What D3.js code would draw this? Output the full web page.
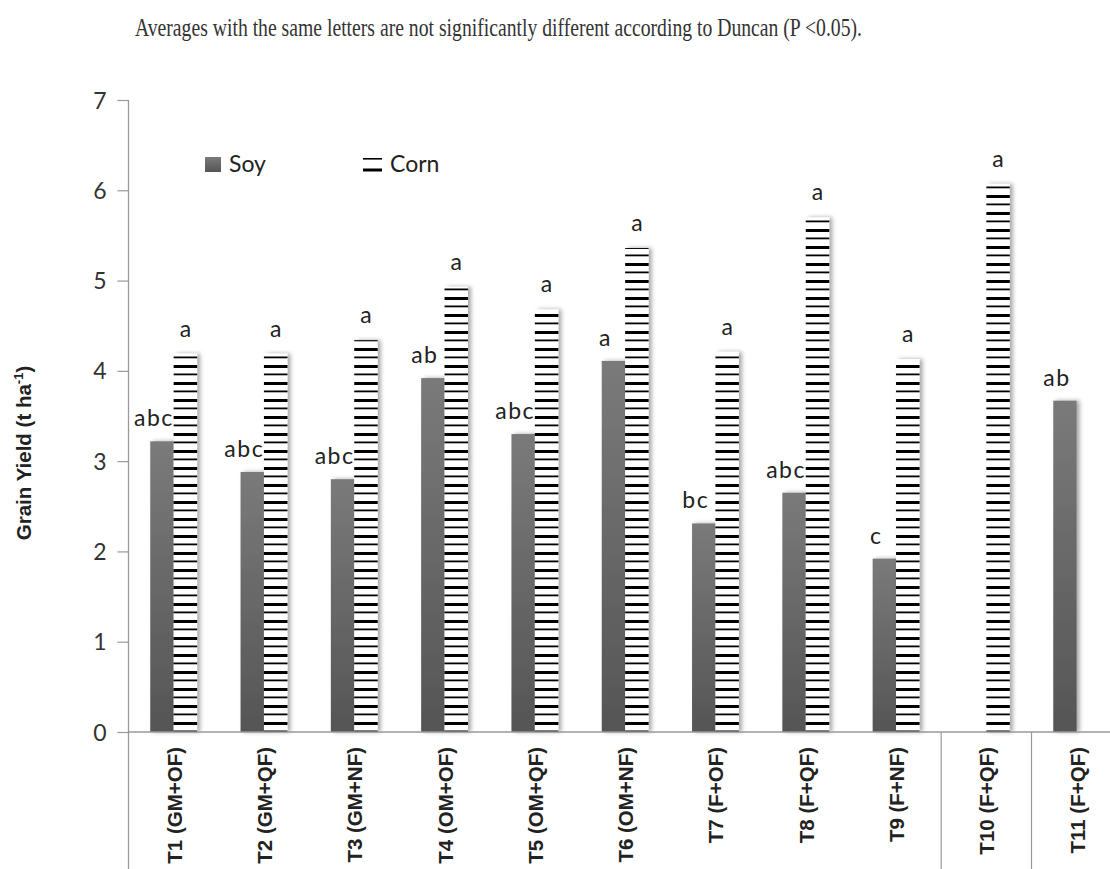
<!DOCTYPE html>
<html>
<head>
<meta charset="utf-8">
<script src="https://cdn.jsdelivr.net/npm/d3@7"></script>
<style>
  html, body { margin: 0; padding: 0; background: #fff; }
  svg { display: block; }
  .tick-lab { font-family: Lato, "Open Sans", sans-serif; font-size: 23px; fill: #333; }
  .cat-lab { font-family: "Liberation Sans", Arial, sans-serif; font-size: 20.5px; font-weight: bold; fill: #222; }
  .sig { font-family: Lato, "Open Sans", sans-serif; font-size: 23px; fill: #222; }
  .leg { font-family: Lato, "Open Sans", sans-serif; font-size: 23px; fill: #222; }
</style>
</head>
<body>
<div id="chart"></div>
<script>
// --- data ---
const categories = ['T1 (GM+OF)', 'T2 (GM+QF)', 'T3 (GM+NF)', 'T4 (OM+OF)', 'T5 (OM+QF)',
  'T6 (OM+NF)', 'T7 (F+OF)', 'T8 (F+QF)', 'T9 (F+NF)', 'T10 (F+QF)', 'T11 (F+QF)'];
const soy  = [3.22, 2.88, 2.80, 3.92, 3.30, 4.11, 2.31, 2.65, 1.92, 0, 3.67];
const corn = [4.19, 4.19, 4.34, 4.93, 4.68, 5.36, 4.21, 5.70, 4.13, 6.07, 0];
const soyLetters  = ['abc', 'abc', 'abc', 'ab', 'abc', 'a', 'bc', 'abc', 'c', '', 'ab'];
const cornLetters = ['a', 'a', 'a', 'a', 'a', 'a', 'a', 'a', 'a', 'a', ''];
const yTicks = [0, 1, 2, 3, 4, 5, 6, 7];
// categories that start a new group on the axis (separator line drawn at their left edge)
const groupStarts = ['T10 (F+QF)', 'T11 (F+QF)'];
const note = 'Averages with the same letters are not significantly different according to Duncan (P <0.05).';

const W = 1110, H = 869;
const x0 = 128.5, step = 90.3;

const svg = d3.select('#chart').append('svg')
  .attr('width', W).attr('height', H);

const defs = svg.append('defs');

// soy: grey gradient, lighter at the top of each bar
const grad = defs.append('linearGradient')
  .attr('id', 'soyGrad').attr('x1', 0).attr('y1', 0).attr('x2', 0).attr('y2', 1);
grad.append('stop').attr('offset', '0%').attr('stop-color', '#7a7a7a');
grad.append('stop').attr('offset', '100%').attr('stop-color', '#555555');

// corn: white with thick / thin black horizontal stripes
const pat = defs.append('pattern')
  .attr('id', 'cornPat').attr('patternUnits', 'userSpaceOnUse')
  .attr('x', 0).attr('y', 8).attr('width', 10).attr('height', 17);
pat.append('rect').attr('width', 10).attr('height', 17).attr('fill', '#fff');
pat.append('rect').attr('y', 0).attr('width', 10).attr('height', 3).attr('fill', '#000');
pat.append('rect').attr('y', 8.5).attr('width', 10).attr('height', 1.8).attr('fill', '#000');

// soft shadow on the right side of the bars
const sh = defs.append('filter').attr('id', 'shadow')
  .attr('x', '-20%').attr('y', '-5%').attr('width', '160%').attr('height', '110%');
sh.append('feDropShadow').attr('dx', 3).attr('dy', 0).attr('stdDeviation', 2)
  .attr('flood-color', '#000').attr('flood-opacity', 0.35);

const x = d3.scaleBand().domain(categories)
  .range([x0, x0 + step * categories.length]).paddingInner(0).paddingOuter(0);
const sub = d3.scaleBand().domain(['soy', 'corn'])
  .range([0, x.bandwidth()]).paddingInner(0).paddingOuter(0.93);
const y = d3.scaleLinear().domain([0, 7]).range([732, 100]);

// note on top
svg.append('text')
  .attr('x', 135).attr('y', 36)
  .attr('textLength', 727).attr('lengthAdjust', 'spacingAndGlyphs')
  .style('font-family', '"Liberation Serif", "DejaVu Serif", serif')
  .style('font-size', '26px').style('fill', '#333')
  .text(note);

// y axis
const yAxis = svg.append('g').attr('transform', `translate(${x0},0)`)
  .call(d3.axisLeft(y).tickValues(yTicks).tickSize(11).tickPadding(11).tickFormat(d3.format('d')));
yAxis.attr('font-size', null).attr('font-family', null);
yAxis.select('.domain').remove();
yAxis.selectAll('.tick line').attr('stroke', '#999').attr('stroke-width', 1.2);
yAxis.selectAll('.tick text').attr('class', 'tick-lab').attr('fill', null).attr('dy', '0.35em');
svg.append('line')
  .attr('x1', x0).attr('x2', x0).attr('y1', y(7)).attr('y2', H)
  .attr('stroke', '#999').attr('stroke-width', 1.3);

svg.append('text')
  .attr('transform', `translate(31,${453}) rotate(-90)`)
  .attr('text-anchor', 'middle')
  .style('font-family', '"Liberation Sans", Arial, sans-serif')
  .style('font-size', '20.5px').style('font-weight', 'bold').style('fill', '#222')
  .text('Grain Yield (t ha')
  .call(t => {
    t.append('tspan').attr('dy', -8).style('font-size', '13px').text('-1');
    t.append('tspan').attr('dy', 8).text(')');
  });

// bars
const groups = svg.append('g').selectAll('g')
  .data(categories).join('g')
  .attr('transform', d => `translate(${x(d)},0)`);

groups.filter((d, i) => soy[i] > 0).append('rect')
  .attr('x', sub('soy')).attr('width', sub.bandwidth())
  .attr('y', d => y(soy[categories.indexOf(d)]))
  .attr('height', d => y(0) - y(soy[categories.indexOf(d)]))
  .attr('fill', 'url(#soyGrad)').attr('filter', 'url(#shadow)');

groups.filter((d, i) => corn[i] > 0).append('rect')
  .attr('x', sub('corn')).attr('width', sub.bandwidth())
  .attr('y', d => y(corn[categories.indexOf(d)]))
  .attr('height', d => y(0) - y(corn[categories.indexOf(d)]))
  .attr('fill', 'url(#cornPat)').attr('filter', 'url(#shadow)');

// x axis line + group separators
svg.append('line')
  .attr('x1', x0).attr('x2', W).attr('y1', y(0)).attr('y2', y(0))
  .attr('stroke', '#999').attr('stroke-width', 1.5);
svg.append('g').selectAll('line').data(groupStarts).join('line')
  .attr('x1', d => x(d)).attr('x2', d => x(d))
  .attr('y1', y(0)).attr('y2', H)
  .attr('stroke', '#999').attr('stroke-width', 1.2);

// category labels, rotated
groups.append('text')
  .attr('class', 'cat-lab')
  .attr('transform', `translate(${x.bandwidth() / 2 + 8},747) rotate(-90)`)
  .attr('text-anchor', 'end')
  .text(d => d);

// significance letters
groups.append('text')
  .attr('class', 'sig').attr('text-anchor', 'middle')
  .attr('x', sub('soy') + sub.bandwidth() / 2 - 8)
  .attr('y', d => y(soy[categories.indexOf(d)]) - 15)
  .attr('letter-spacing', 1.5)
  .text((d, i) => soyLetters[i]);

groups.append('text')
  .attr('class', 'sig').attr('text-anchor', 'middle')
  .attr('x', sub('corn') + sub.bandwidth() / 2)
  .attr('y', d => y(corn[categories.indexOf(d)]) - 17)
  .text((d, i) => cornLetters[i]);

// legend
const leg = svg.append('g');
leg.append('rect').attr('x', 205).attr('y', 157).attr('width', 16).attr('height', 15)
  .attr('fill', 'url(#soyGrad)');
leg.append('text').attr('class', 'leg').attr('x', 229).attr('y', 172).text('Soy');
leg.append('rect').attr('x', 363).attr('y', 158).attr('width', 19).attr('height', 1.6).attr('fill', '#000');
leg.append('rect').attr('x', 363).attr('y', 168.5).attr('width', 19).attr('height', 3).attr('fill', '#000');
leg.append('text').attr('class', 'leg').attr('x', 390).attr('y', 172).text('Corn');
</script>
</body>
</html>
